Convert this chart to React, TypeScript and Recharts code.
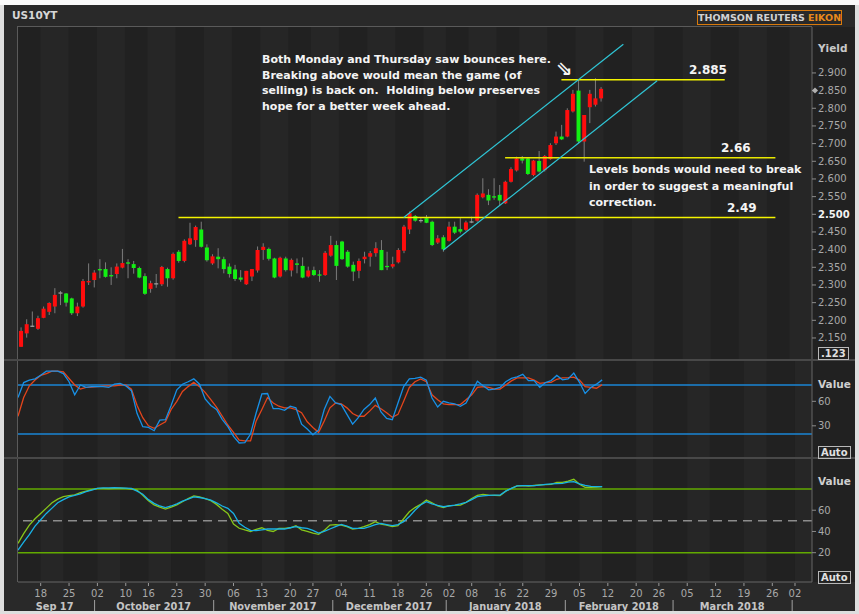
import React from 'react';
import { ComposedChart, Bar, Line, XAxis, YAxis, ReferenceLine, ReferenceArea } from 'recharts';

// trading days shown on the time axis (data runs to Feb 9, the rest is empty future space)
const MONTHS: [number, number, number[]][] = [
  [2017, 9, [12, 13, 14, 15, 18, 19, 20, 21, 22, 25, 26, 27, 28, 29]],
  [2017, 10, [2, 3, 4, 5, 6, 10, 11, 12, 13, 16, 17, 18, 19, 20, 23, 24, 25, 26, 27, 30, 31]],
  [2017, 11, [1, 2, 3, 6, 7, 8, 9, 10, 13, 14, 15, 16, 17, 20, 21, 22, 24, 27, 28, 29, 30]],
  [2017, 12, [1, 4, 5, 6, 7, 8, 11, 12, 13, 14, 15, 18, 19, 20, 21, 22, 26, 27, 28, 29]],
  [2018, 1, [2, 3, 4, 5, 8, 9, 10, 11, 12, 16, 17, 18, 19, 22, 23, 24, 25, 26, 29, 30, 31]],
  [2018, 2, [1, 2, 5, 6, 7, 8, 9, 12, 13, 14, 15, 16, 20, 21, 22, 23, 26, 27, 28]],
  [2018, 3, [1, 2, 5, 6, 7, 8, 9, 12, 13, 14, 15, 16, 19, 20, 21, 22, 23, 26, 27, 28, 29]],
  [2018, 4, [2, 3, 4, 5]],
];
const MONTH_LABELS = ['Sep 17', 'October 2017', 'November 2017', 'December 2017', 'January 2018', 'February 2018', 'March 2018', ''];

const OPEN = [
  2.125, 2.163, 2.184, 2.176, 2.207, 2.224, 2.239, 2.278, 2.276, 2.262, 2.220, 2.239, 2.308, 2.314, 2.345, 2.345, 2.328, 2.331, 2.349, 2.364,
  2.359, 2.348, 2.325, 2.289, 2.304, 2.302, 2.345, 2.319, 2.394, 2.368, 2.415, 2.427, 2.457, 2.406, 2.361, 2.380, 2.373, 2.352, 2.344, 2.321,
  2.302, 2.324, 2.341, 2.399, 2.402, 2.375, 2.324, 2.375, 2.341, 2.361, 2.354, 2.324, 2.342, 2.330, 2.328, 2.383, 2.413, 2.423, 2.394, 2.357,
  2.340, 2.373, 2.380, 2.390, 2.399, 2.354, 2.352, 2.364, 2.397, 2.457, 2.495, 2.484, 2.489, 2.479, 2.420, 2.435, 2.425, 2.465, 2.458, 2.456,
  2.479, 2.482, 2.548, 2.555, 2.551, 2.555, 2.531, 2.592, 2.624, 2.658, 2.658, 2.611, 2.651, 2.625, 2.656, 2.701, 2.720, 2.720, 2.791, 2.850,
  2.706, 2.803, 2.810, 2.828,
];
const HIGH = [
  2.180, 2.203, 2.225, 2.213, 2.239, 2.251, 2.291, 2.283, 2.277, 2.264, 2.250, 2.317, 2.361, 2.342, 2.373, 2.364, 2.350, 2.361, 2.402, 2.373,
  2.368, 2.352, 2.333, 2.312, 2.331, 2.354, 2.349, 2.392, 2.399, 2.429, 2.476, 2.468, 2.479, 2.415, 2.387, 2.404, 2.380, 2.361, 2.357, 2.342,
  2.340, 2.345, 2.409, 2.418, 2.406, 2.377, 2.380, 2.380, 2.375, 2.375, 2.378, 2.352, 2.352, 2.342, 2.396, 2.439, 2.425, 2.425, 2.399, 2.366,
  2.375, 2.394, 2.396, 2.421, 2.427, 2.394, 2.380, 2.404, 2.470, 2.508, 2.498, 2.489, 2.498, 2.482, 2.441, 2.441, 2.479, 2.479, 2.489, 2.482,
  2.493, 2.559, 2.602, 2.571, 2.602, 2.583, 2.595, 2.633, 2.663, 2.665, 2.661, 2.654, 2.679, 2.668, 2.701, 2.734, 2.753, 2.800, 2.852, 2.882,
  2.781, 2.852, 2.885, 2.860,
];
const LOW = [
  2.125, 2.151, 2.182, 2.173, 2.206, 2.215, 2.220, 2.243, 2.239, 2.215, 2.212, 2.236, 2.300, 2.293, 2.319, 2.321, 2.300, 2.319, 2.347, 2.319,
  2.332, 2.319, 2.272, 2.278, 2.292, 2.297, 2.295, 2.315, 2.363, 2.364, 2.413, 2.408, 2.406, 2.366, 2.357, 2.347, 2.333, 2.321, 2.311, 2.309,
  2.300, 2.311, 2.335, 2.371, 2.369, 2.319, 2.321, 2.338, 2.324, 2.333, 2.319, 2.321, 2.325, 2.309, 2.326, 2.380, 2.314, 2.371, 2.349, 2.311,
  2.319, 2.361, 2.352, 2.380, 2.342, 2.342, 2.347, 2.361, 2.390, 2.444, 2.479, 2.476, 2.475, 2.410, 2.416, 2.394, 2.423, 2.444, 2.446, 2.453,
  2.475, 2.479, 2.545, 2.526, 2.541, 2.526, 2.529, 2.590, 2.621, 2.644, 2.611, 2.608, 2.618, 2.621, 2.654, 2.696, 2.710, 2.718, 2.788, 2.701,
  2.649, 2.758, 2.805, 2.819,
];
const CLOSE = [
  2.170, 2.189, 2.185, 2.206, 2.233, 2.249, 2.272, 2.279, 2.250, 2.220, 2.239, 2.311, 2.311, 2.335, 2.342, 2.323, 2.325, 2.352, 2.362, 2.362,
  2.348, 2.321, 2.275, 2.305, 2.305, 2.351, 2.319, 2.388, 2.368, 2.425, 2.432, 2.464, 2.408, 2.370, 2.381, 2.373, 2.345, 2.331, 2.317, 2.315,
  2.340, 2.345, 2.399, 2.408, 2.374, 2.321, 2.377, 2.342, 2.371, 2.357, 2.321, 2.341, 2.328, 2.327, 2.391, 2.413, 2.354, 2.373, 2.352, 2.338,
  2.368, 2.380, 2.390, 2.404, 2.342, 2.351, 2.359, 2.399, 2.465, 2.503, 2.482, 2.483, 2.476, 2.413, 2.432, 2.401, 2.465, 2.448, 2.451, 2.477,
  2.480, 2.555, 2.559, 2.539, 2.548, 2.539, 2.592, 2.628, 2.658, 2.652, 2.614, 2.652, 2.621, 2.665, 2.696, 2.720, 2.712, 2.795, 2.841, 2.706,
  2.781, 2.841, 2.828, 2.855,
];

// stochastic panel: %K (blue) and %D (red)
const STOCH_K = [
  64.6, 83, 86, 87.5, 92, 97, 97, 97, 94, 84, 68, 80, 77, 78, 78, 78, 77, 81, 82, 79,
  73, 45, 29, 28, 24, 37, 37.5, 55, 74, 81, 84, 87.5, 81, 63, 55, 50, 38, 29, 17, 9,
  9.5, 20, 46, 69, 69.6, 51, 51, 49, 54, 52, 32, 26, 19, 25, 50, 66, 58, 56, 44, 32,
  40, 50, 56, 64, 47, 39, 37.5, 58, 78, 87.5, 88, 89.6, 86, 64, 53, 60, 58, 57, 54, 58,
  71, 84.6, 79, 74, 75, 77, 84, 88, 90, 93, 85.4, 85.4, 77, 83, 85.4, 91.7, 86.25, 87.5, 94.6, 83.3,
  69.6, 77, 81, 86.25,
];
const STOCH_D = [
  41.7, 64.6, 79, 86, 91.7, 94, 97, 97, 96, 88, 80, 75, 77, 77.5, 78, 78.5, 79, 79, 80, 80,
  75, 55, 40, 30, 27, 31, 35, 50, 60, 72, 78, 83.3, 78, 71, 62, 53, 42, 31, 22, 12.5,
  11.5, 11.5, 36, 50, 64.6, 58, 54, 52, 52, 50, 46, 35, 28, 22, 36, 52, 58, 57, 52, 45,
  41.7, 41.7, 48, 55, 51, 46, 40.4, 44, 60, 77, 84, 87.5, 84, 68, 62, 57, 56, 56, 56, 62,
  68, 77, 78, 77, 75, 75, 80, 85, 88.75, 88.75, 88.75, 86, 82, 83, 83.3, 87, 88.75, 89, 89.6, 86,
  78, 77, 76, 80.4,
];
// lower oscillator panel: green and cyan lines
const OSC_GREEN = [
  28.8, 38, 46, 52, 57, 62, 67, 70.5, 72.8, 73.8, 74.5, 76.5, 78, 79.5, 80.6, 80.6, 80.3, 80.6, 80.8, 80.6,
  80, 79, 74, 69, 65, 63, 61.1, 63, 65, 68, 71, 73.5, 72.5, 71, 69, 65.5, 61, 57, 47, 43,
  41.4, 40, 42, 43.5, 41, 40, 42.9, 43, 43.5, 45.4, 41.5, 40, 38.5, 37.3, 41, 46, 46.5, 46, 44.5, 42.3,
  43, 44.5, 46.5, 49.2, 47, 46, 44.5, 45.4, 52, 58.6, 62.5, 65.5, 69.6, 67, 64, 62.4, 64.3, 64.5, 64.9, 67.4,
  71, 74, 75, 74.3, 74, 73.7, 78, 80.6, 83, 83.1, 82.8, 83.3, 83.8, 84.2, 84.4, 86.3, 86.3, 87.5, 89.1, 84.4,
  81.6, 81.6, 81.8, 82.2,
];
const OSC_BLUE = [
  22.5, 30, 37, 45, 51, 57, 62, 67, 70, 72.5, 74, 75.5, 77.5, 79, 80.5, 81, 81, 81.2, 81, 80.8,
  80.6, 78, 75, 70, 66.5, 64, 62.4, 64, 66, 68.5, 70.5, 72.5, 72, 71, 69.6, 67, 64, 61.8, 57, 47.6,
  44, 41, 40.8, 41.5, 42.3, 42.3, 42.3, 42.3, 43.5, 44.5, 43.5, 42.9, 41, 38.5, 40, 42.3, 44.5, 46.7, 45, 42.9,
  42.9, 42.9, 44.5, 46.5, 47.6, 46.5, 45.5, 46.5, 49.2, 54, 60, 65, 68, 66, 64.5, 63.3, 64, 64.9, 66, 67.4,
  70, 72.8, 73.5, 73.9, 74.2, 74.3, 78, 80.6, 83, 83.1, 83.1, 83.1, 83.7, 84.4, 84.8, 85.1, 85.3, 86.5, 87, 84.8,
  83.5, 82.5, 82.2, 82.2,
];

const PRICE_TICKS = [2.15, 2.2, 2.25, 2.3, 2.35, 2.4, 2.45, 2.5, 2.55, 2.6, 2.65, 2.7, 2.75, 2.8, 2.85, 2.9];

const FONT = '"DejaVu Sans", Verdana, sans-serif';
const W = 859;
const PLOT_L = 18;
const AXIS_W = 47;

const pad = (n: number) => String(n).padStart(2, '0');
const DATES: string[] = MONTHS.flatMap(([y, m, days]) => days.map((d) => `${y}-${pad(m)}-${pad(d)}`));
const BW = (W - PLOT_L - AXIS_W) / DATES.length;
const dayNo = (s: string) => Date.parse(s + 'T00:00:00Z') / 86400000;
const dow = (s: string) => new Date(s + 'T00:00:00Z').getUTCDay();
const WEEK_START = DATES.map((d, i) => i > 0 && (dow(d) <= dow(DATES[i - 1]) || dayNo(d) - dayNo(DATES[i - 1]) >= 7));

const WEEKS: [number, number][] = [];
{
  let s = 0;
  for (let i = 1; i <= DATES.length; i++) {
    if (i === DATES.length || WEEK_START[i]) {
      WEEKS.push([s, i - 1]);
      s = i;
    }
  }
}

const MONTH_START: Record<number, { label: string; count: number }> = {};
{
  let idx = 0;
  MONTHS.forEach(([, , days], j) => {
    MONTH_START[idx] = { label: MONTH_LABELS[j], count: days.length };
    idx += days.length;
  });
}

const rows = DATES.map((d, i) =>
  i < OPEN.length
    ? {
        d,
        range: [LOW[i], HIGH[i]],
        o: OPEN[i],
        h: HIGH[i],
        l: LOW[i],
        c: CLOSE[i],
        k: STOCH_K[i],
        sd: STOCH_D[i],
        g: OSC_GREEN[i],
        b: OSC_BLUE[i],
      }
    : { d }
);

const Candle = (props: any) => {
  const { x, y, width, height, payload } = props;
  if (!payload || payload.o == null) return <g />;
  const { o, h, l, c } = payload;
  const top = Math.min(y, y + height);
  const hgt = Math.abs(height);
  const toY = (v: number) => top + ((h - v) / (h - l || 1)) * hgt;
  const cx = x + width / 2;
  const yo = toY(o);
  const yc = toY(c);
  const up = c > o + 0.0015;
  const down = c < o - 0.0015;
  const color = up ? '#ff0d0d' : down ? '#12f012' : '#9c9c9c';
  const bodyTop = Math.min(yo, yc);
  const bodyH = Math.max(1.3, Math.abs(yc - yo));
  return (
    <g>
      <line x1={cx} x2={cx} y1={top} y2={top + hgt} stroke="#7c7c7c" strokeWidth={1} />
      <rect x={cx - 2} y={bodyTop} width={4} height={bodyH} fill={color} />
    </g>
  );
};

const PriceTick = (props: any) => {
  const { x, y, payload } = props;
  const v = payload.value as number;
  const bold = Math.abs(v - 2.5) < 1e-6;
  const marker = Math.abs(v - 2.85) < 1e-6;
  return (
    <g>
      {marker && <polygon points={`${x - 6},${y} ${x - 3},${y - 3} ${x},${y} ${x - 3},${y + 3}`} fill="#b0b0b0" />}
      <text
        x={x}
        y={y}
        dy={3.5}
        textAnchor="start"
        fill={bold ? '#f2f2f2' : '#a8a8a8'}
        fontWeight={bold ? 'bold' : 'normal'}
        fontSize={10}
        fontFamily={FONT}
      >
        {v.toFixed(3)}
      </text>
    </g>
  );
};

const DateTick = (props: any) => {
  const { x, y, payload } = props;
  const i = DATES.indexOf(payload.value);
  const parts: React.ReactNode[] = [];
  if (WEEK_START[i]) {
    parts.push(<line key="t" x1={x} x2={x} y1={y + 1} y2={y + 4} stroke="#9a9a9a" />);
    parts.push(
      <text key="d" x={x} y={y + 15} textAnchor="middle" fill="#a8a8a8" fontSize={10} fontFamily={FONT}>
        {payload.value.slice(8, 10)}
      </text>
    );
  }
  const ms = MONTH_START[i];
  if (ms) {
    const left = x - BW / 2;
    if (i > 0) parts.push(<line key="s" x1={left} x2={left} y1={y + 18} y2={y + 29} stroke="#a0a0a0" />);
    if (ms.label)
      parts.push(
        <text
          key="m"
          x={left + (ms.count * BW) / 2}
          y={y + 27.5}
          textAnchor="middle"
          fill="#c4c4c4"
          fontSize={9.8}
          fontWeight="bold"
          fontFamily={FONT}
        >
          {ms.label}
        </text>
      );
  }
  return <g>{parts}</g>;
};

const stripes = () =>
  WEEKS.filter((_, j) => j % 2 === 1).map(([a, b]) => (
    <ReferenceArea
      key={`w${a}`}
      x1={DATES[a]}
      x2={DATES[b]}
      fill="#262626"
      fillOpacity={1}
      stroke="none"
      ifOverflow="visible"
    />
  ));

const smallTick = { fill: '#a8a8a8', fontSize: 10, fontFamily: FONT };
const txt: React.CSSProperties = { position: 'absolute', fontFamily: FONT, whiteSpace: 'nowrap' };
const note: React.CSSProperties = { ...txt, color: '#f4f4f4', fontWeight: 'bold', fontSize: 11 };

const boxLabel = (label: string, top: number) => (
  <div
    style={{
      ...txt,
      left: 818,
      top,
      border: '1px solid #b8b8b8',
      padding: '0 2px',
      lineHeight: '11px',
      fontSize: 10,
      fontWeight: 'bold',
      color: '#e0e0e0',
    }}
  >
    {label}
  </div>
);

export default function App() {
  return (
    <div style={{ position: 'absolute', left: 0, top: 0, width: W, height: 614, background: '#dedede', overflow: 'hidden' }}>
      <div style={{ position: 'absolute', left: 0, top: 0, width: W, height: 5, background: '#fafafa' }} />
      <div style={{ position: 'absolute', left: 4, top: 5, width: 851, height: 606, background: '#292929' }} />
      <div style={{ position: 'absolute', left: PLOT_L, top: 27, width: 837, height: 555, background: '#212121' }} />

      <div style={{ ...txt, left: 12, top: 9, fontSize: 10.5, fontWeight: 'bold', color: '#d6d6d6' }}>US10YT</div>
      <div
        style={{
          ...txt,
          left: 697,
          top: 10,
          width: 143,
          height: 13,
          border: '1px solid #d97a0c',
          fontSize: 9.5,
          fontWeight: 'bold',
          lineHeight: '13px',
          textAlign: 'center',
          color: '#d2d2d2',
        }}
      >
        THOMSON REUTERS <span style={{ color: '#e8891c' }}>EIKON</span>
      </div>

      {/* main price panel */}
      <div style={{ position: 'absolute', left: 0, top: 27 }}>
        <ComposedChart width={W} height={333} data={rows} margin={{ top: 0, right: 0, bottom: 0, left: PLOT_L }}>
          <XAxis dataKey="d" hide />
          <YAxis
            orientation="right"
            width={AXIS_W}
            domain={[2.0877, 3.03]}
            allowDataOverflow
            ticks={PRICE_TICKS}
            interval={0}
            tick={<PriceTick />}
            tickSize={4}
            tickMargin={2}
            tickLine={{ stroke: '#8c8c8c' }}
            axisLine={{ stroke: '#666' }}
          />
          {stripes()}
          <ReferenceLine segment={[{ x: DATES[28], y: 2.491 }, { x: DATES[134], y: 2.491 }]} stroke="#f4f400" strokeWidth={1.5} />
          <ReferenceLine segment={[{ x: DATES[86], y: 2.66 }, { x: DATES[134], y: 2.66 }]} stroke="#e8e800" strokeWidth={1.5} />
          <ReferenceLine segment={[{ x: DATES[96], y: 2.881 }, { x: DATES[125], y: 2.881 }]} stroke="#f4f400" strokeWidth={1.5} />
          <ReferenceLine segment={[{ x: DATES[68], y: 2.491 }, { x: DATES[107], y: 2.981 }]} stroke="#2fc6d6" strokeWidth={1.2} />
          <ReferenceLine segment={[{ x: DATES[75], y: 2.398 }, { x: DATES[113], y: 2.878 }]} stroke="#2fc6d6" strokeWidth={1.2} />
          <Bar dataKey="range" shape={<Candle />} isAnimationActive={false} />
        </ComposedChart>
      </div>

      {/* stochastic panel */}
      <div style={{ position: 'absolute', left: 0, top: 360 }}>
        <ComposedChart width={W} height={98} data={rows} margin={{ top: 0, right: 0, bottom: 0, left: PLOT_L }}>
          <XAxis dataKey="d" hide />
          <YAxis
            orientation="right"
            width={AXIS_W}
            domain={[-9.4, 110.6]}
            allowDataOverflow
            ticks={[30, 60]}
            interval={0}
            tick={smallTick}
            tickSize={4}
            tickMargin={2}
            tickLine={{ stroke: '#8c8c8c' }}
            axisLine={{ stroke: '#666' }}
          />
          {stripes()}
          <ReferenceLine y={80} stroke="#1a86d6" strokeWidth={1.5} />
          <ReferenceLine y={20} stroke="#1a86d6" strokeWidth={1.5} />
          <Line dataKey="sd" stroke="#e4451c" strokeWidth={1.3} dot={false} isAnimationActive={false} />
          <Line dataKey="k" stroke="#1890e6" strokeWidth={1.3} dot={false} isAnimationActive={false} />
        </ComposedChart>
      </div>

      {/* lower oscillator panel with date axis */}
      <div style={{ position: 'absolute', left: 0, top: 458 }}>
        <ComposedChart width={W} height={154} data={rows} margin={{ top: 0, right: 0, bottom: 0, left: PLOT_L }}>
          <XAxis
            dataKey="d"
            ticks={DATES}
            interval={0}
            tick={<DateTick />}
            tickLine={false}
            tickSize={0}
            tickMargin={0}
            height={30}
            axisLine={{ stroke: '#666' }}
          />
          <YAxis
            orientation="right"
            width={AXIS_W}
            domain={[-7.6, 109.2]}
            allowDataOverflow
            ticks={[20, 40, 60]}
            interval={0}
            tick={smallTick}
            tickSize={4}
            tickMargin={2}
            tickLine={{ stroke: '#8c8c8c' }}
            axisLine={{ stroke: '#666' }}
          />
          {stripes()}
          <ReferenceLine y={80} stroke="#62aa00" strokeWidth={1.5} />
          <ReferenceLine y={20} stroke="#62aa00" strokeWidth={1.5} />
          <ReferenceLine y={50} stroke="#8c8c8c" strokeWidth={1.5} strokeDasharray="9 6" />
          <Line dataKey="g" stroke="#86c61a" strokeWidth={1.3} dot={false} isAnimationActive={false} />
          <Line dataKey="b" stroke="#18b2e6" strokeWidth={1.3} dot={false} isAnimationActive={false} />
        </ComposedChart>
      </div>

      {/* panel borders */}
      <div style={{ position: 'absolute', left: PLOT_L, top: 26, width: 794, height: 1, background: '#5a5a5a' }} />
      <div style={{ position: 'absolute', left: PLOT_L - 1, top: 26, width: 1, height: 556, background: '#5a5a5a' }} />
      <div style={{ position: 'absolute', left: 4, top: 359, width: 851, height: 2, background: '#484848' }} />
      <div style={{ position: 'absolute', left: 4, top: 457, width: 851, height: 2, background: '#484848' }} />

      {/* right axis captions */}
      <div style={{ ...txt, left: 818, top: 42, fontSize: 10.5, fontWeight: 'bold', color: '#c8c8c8' }}>Yield</div>
      {boxLabel('.123', 347)}
      <div style={{ ...txt, left: 818, top: 378, fontSize: 10.5, fontWeight: 'bold', color: '#cfcfcf' }}>Value</div>
      {boxLabel('Auto', 446)}
      <div style={{ ...txt, left: 818, top: 475, fontSize: 10.5, fontWeight: 'bold', color: '#cfcfcf' }}>Value</div>
      {boxLabel('Auto', 571)}

      {/* annotations */}
      <div style={{ ...note, left: 262, top: 52, lineHeight: '15.5px' }}>
        Both Monday and Thursday saw bounces here.
        <br />
        Breaking above would mean the game (of
        <br />
        selling) is back on.&nbsp; Holding below preserves
        <br />
        hope for a better week ahead.
      </div>
      <div style={{ ...txt, left: 556, top: 56, fontSize: 20, fontWeight: 'bold', color: '#f4f4f4' }}>⇘</div>
      <div style={{ ...note, left: 689, top: 63, fontSize: 12 }}>2.885</div>
      <div style={{ ...note, left: 721, top: 141, fontSize: 12 }}>2.66</div>
      <div style={{ ...note, left: 589, top: 162, lineHeight: '16.5px' }}>
        Levels bonds would need to break
        <br />
        in order to suggest a meaningful
        <br />
        correction.
      </div>
      <div style={{ ...note, left: 727, top: 201, fontSize: 12 }}>2.49</div>
    </div>
  );
}
